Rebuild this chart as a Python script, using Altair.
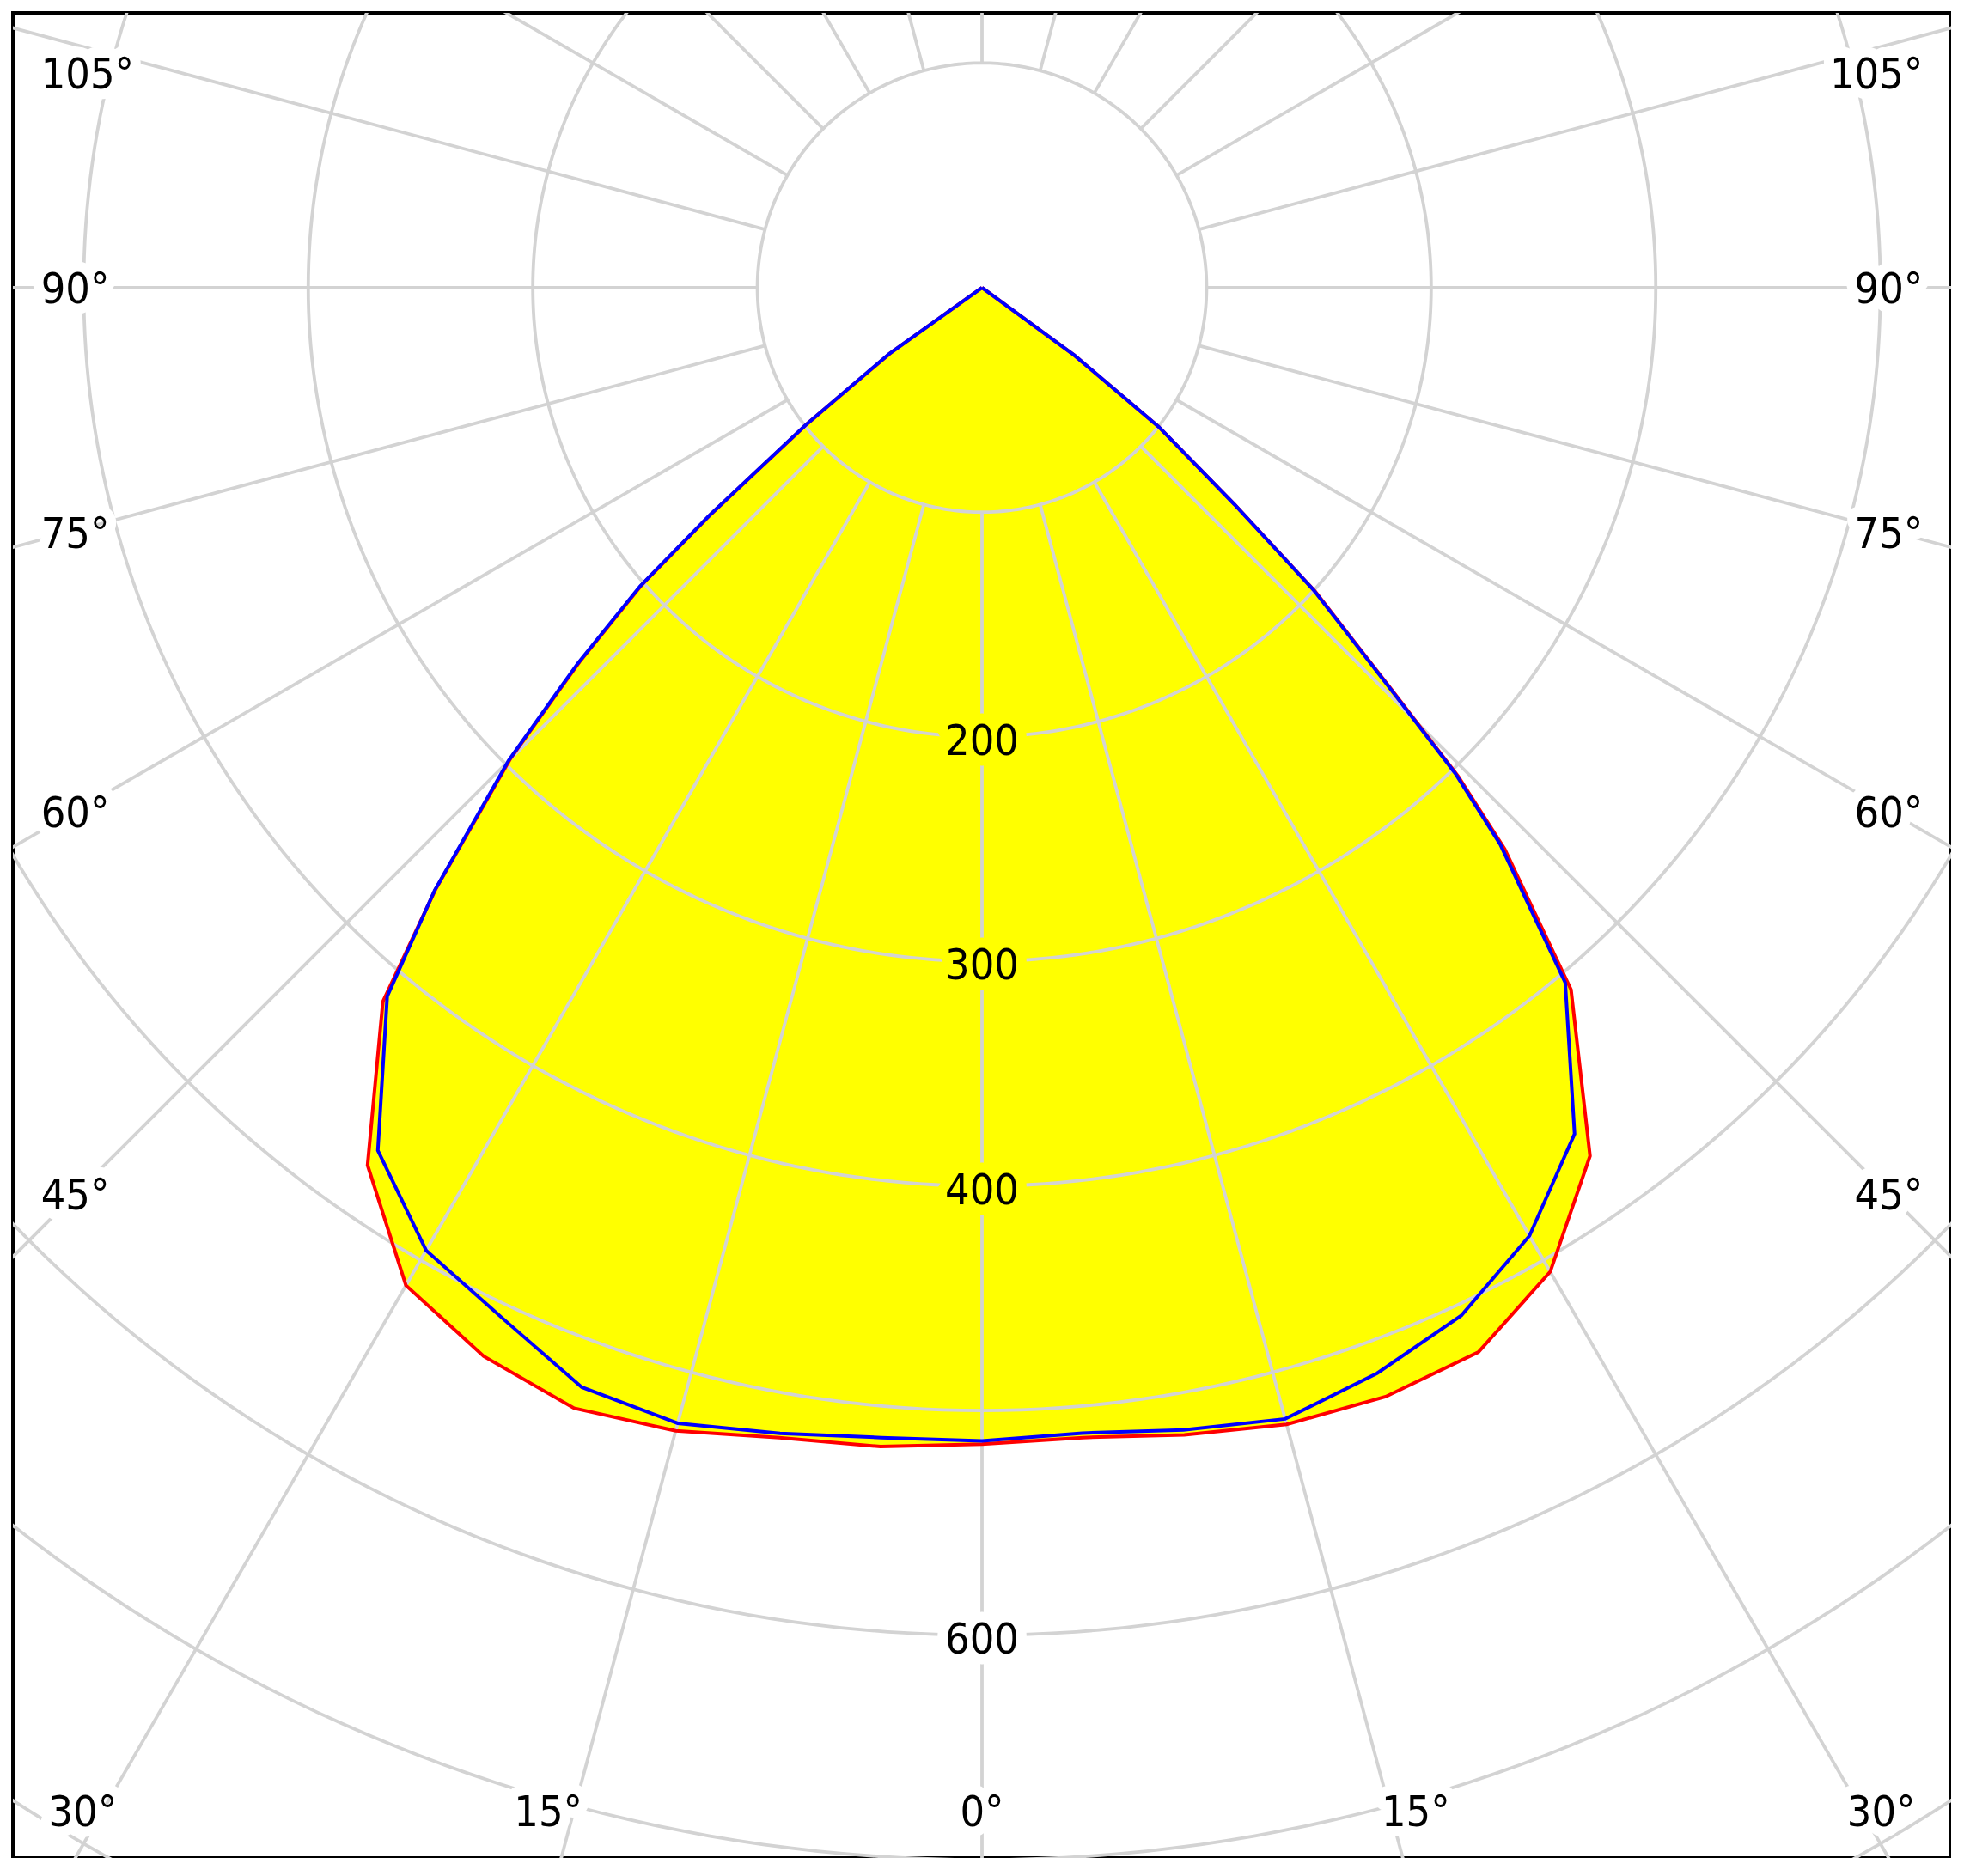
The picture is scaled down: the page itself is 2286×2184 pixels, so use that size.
import math
import altair as alt
import pandas as pd

# ---------------- data (cd; angle in degrees from nadir) ----
# lower part, common angles
low_angles = [0, 5, 10, 15, 20, 25, 30, 35, 40]
red_left_low = [515, 518, 520, 527, 531, 525, 513, 477, 415]
blue_left_low = [513.5, 514, 518, 523.5, 521, 506, 495, 469, 412]
red_right_low = [515, 514, 518.7, 524, 525.5, 523, 506, 472, 408]
blue_right_low = [513.5, 512, 516.5, 521.5, 514.4, 505, 487.5, 460, 404]

# upper part (cut-off flank), read along each side
left_up_angles = [42.24, 45.03, 46.42, 47.08, 48.86, 50.11, 52.06, 54.43, 90]
blue_left_up = [362.5, 297.9, 260.6, 245.8, 202.2, 158.3, 99.8, 50.9, 0]
red_left_up = [362.0, 296.7, 259.4, 244.6, 201.0, 157.1, 98.8, 50.2, 0]
right_up_angles = [42.95, 44.25, 45.53, 47.63, 49.33, 51.76, 53.76, 90]
blue_right_up = [338.6, 301.9, 254.1, 199.8, 148.3, 100.2, 51.0, 0]
red_right_up = [341.6, 303.9, 255.6, 200.8, 148.8, 100.2, 51.0, 0]

ring_values = [100, 200, 300, 400, 500, 600, 700, 800, 900]
ring_labels = [200, 300, 400, 600]
spoke_angles = list(range(0, 360, 15))
side_labels = ["105°", "90°", "75°", "60°", "45°"]
bottom_labels = ["30°", "15°", "0°", "15°", "30°"]

# ---------------- layout constants ----------------
W, H = 2256, 2148
XDOM = [-431.5, 431.5]
YDOM = [-699.2, 122.3]
SIDE_X = 419.0
SIDE_Y = [95.4, 0.0, -109.2, -233.5, -403.6]
BOTTOM_X = [-400.4, -193.1, 0.0, 193.1, 400.4]
BOTTOM_Y = -678.2
FONT = "'DejaVu Sans Condensed', 'DejaVu Sans', sans-serif"
FS = 50
GRID = "#d3d3d3"
GW = 3.8

xs = alt.Scale(domain=XDOM, nice=False, zero=False)
ys = alt.Scale(domain=YDOM, nice=False, zero=False)


def outline(name, l_ang, l_val, r_ang, r_val):
    rows = []
    i = 0
    for a, r in reversed(list(zip(l_ang, l_val))):
        t = math.radians(a)
        rows.append({"series": name, "i": i, "x": -r * math.sin(t), "y": -r * math.cos(t)})
        i += 1
    for a, r in zip(r_ang, r_val):
        t = math.radians(a)
        rows.append({"series": name, "i": i, "x": r * math.sin(t), "y": -r * math.cos(t)})
        i += 1
    return pd.DataFrame(rows)


red_df = outline("C0-C180",
                 low_angles + left_up_angles, red_left_low + red_left_up,
                 low_angles + right_up_angles, red_right_low + red_right_up)
blue_df = outline("C90-C270",
                  low_angles + left_up_angles, blue_left_low + blue_left_up,
                  low_angles + right_up_angles, blue_right_low + blue_right_up)

ring_rows = []
for rv in ring_values:
    for k in range(0, 361):
        t = math.radians(k)
        ring_rows.append({"ring": rv, "k": k, "x": rv * math.sin(t), "y": -rv * math.cos(t)})
ring_df = pd.DataFrame(ring_rows)

spoke_df = pd.DataFrame([
    {"a": a,
     "x": 100 * math.sin(math.radians(a)), "y": -100 * math.cos(math.radians(a)),
     "x2": 1000 * math.sin(math.radians(a)), "y2": -1000 * math.cos(math.radians(a))}
    for a in spoke_angles
])

ring_lab_df = pd.DataFrame({
    "x": [0.0] * len(ring_labels),
    "y": [-v for v in ring_labels],
    "t": [str(v) for v in ring_labels],
    "bg": ["#ffff00" if v < 500 else "#ffffff" for v in ring_labels],
})

left_df = pd.DataFrame({"x": [-SIDE_X] * 5, "y": SIDE_Y, "t": side_labels})
right_df = pd.DataFrame({"x": [SIDE_X] * 5, "y": SIDE_Y, "t": side_labels})
bot_df = pd.DataFrame({"x": BOTTOM_X, "y": [BOTTOM_Y] * 5, "t": bottom_labels})

X = alt.X("x:Q", scale=xs, axis=None)
Y = alt.Y("y:Q", scale=ys, axis=None)


def fill_layer(df):
    return alt.Chart(df).mark_line(fill="#ffff00", strokeOpacity=0, clip=True).encode(
        x=X, y=Y, order="i:Q")


def curve_layer(df, color):
    return alt.Chart(df).mark_line(color=color, strokeWidth=4, clip=True).encode(
        x=X, y=Y, order="i:Q")


rings = alt.Chart(ring_df).mark_line(color=GRID, strokeWidth=GW, clip=True).encode(
    x=X, y=Y, detail="ring:N", order="k:Q")
spokes = alt.Chart(spoke_df).mark_rule(color=GRID, strokeWidth=GW, clip=True).encode(
    x=X, y=Y, x2="x2:Q", y2="y2:Q")


def label_pair(df, align, dy, halo=None):
    base = alt.Chart(df)
    common = dict(align=align, baseline="middle", font=FONT, fontSize=FS, dy=dy)
    if halo is None:
        h = base.mark_text(strokeWidth=24, strokeJoin="round", **common).encode(
            x=X, y=Y, text="t:N",
            fill=alt.Color("bg:N", scale=None), stroke=alt.Color("bg:N", scale=None))
    else:
        h = base.mark_text(stroke=halo, fill=halo, strokeWidth=24,
                           strokeJoin="round", **common).encode(x=X, y=Y, text="t:N")
    t = base.mark_text(color="black", **common).encode(x=X, y=Y, text="t:N")
    return h, t


rh, rt = label_pair(ring_lab_df, "center", 6)
lh, lt = label_pair(left_df, "left", 3, "#ffffff")
gh, gt = label_pair(right_df, "right", 3, "#ffffff")
bh, bt = label_pair(bot_df, "center", 3, "#ffffff")

chart = alt.layer(
    fill_layer(red_df), fill_layer(blue_df),
    rings, spokes,
    rh, lh, gh, bh, rt, lt, gt, bt,
    curve_layer(red_df, "#ff0000"), curve_layer(blue_df, "#0000ff"),
).properties(
    width=W, height=H,
    padding={"left": 7, "top": 7, "right": 0, "bottom": 0},
    background="white",
).configure_view(stroke="black", strokeWidth=4)

chart.save("out.html", embed_options={"renderer": "svg", "actions": False})
